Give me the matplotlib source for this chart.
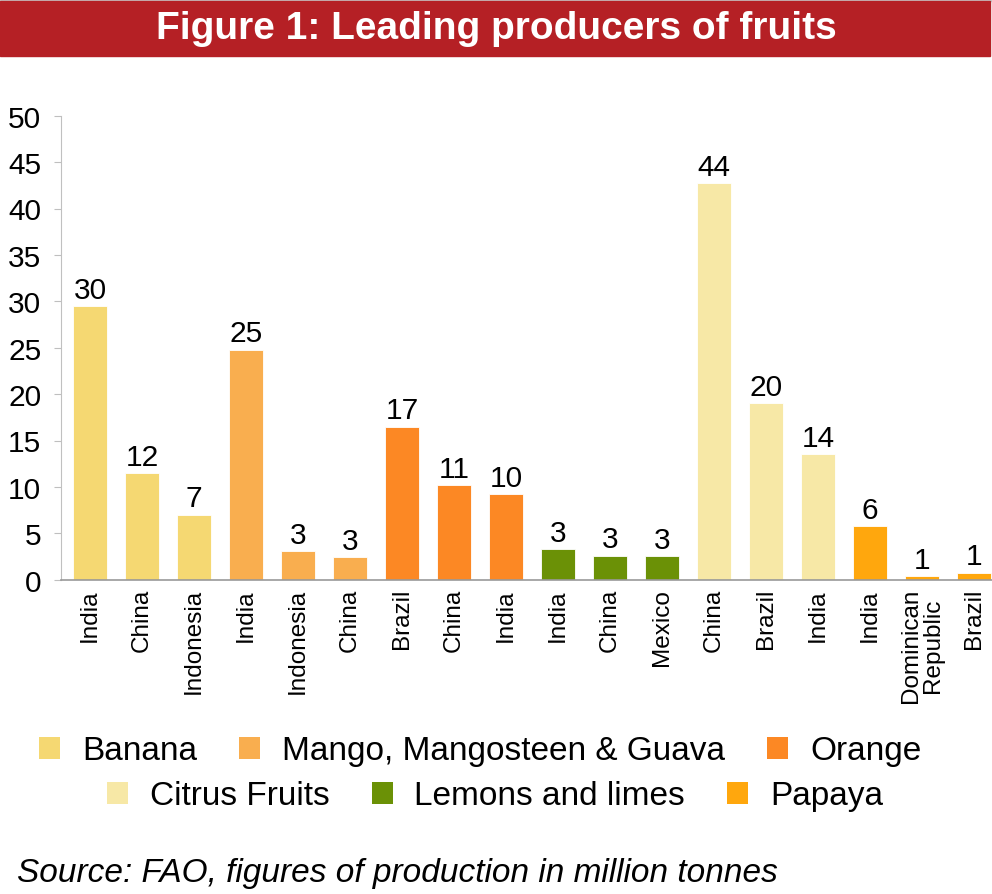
import matplotlib
matplotlib.use("Agg")
import matplotlib.pyplot as plt
from matplotlib.patches import Patch, Rectangle

plt.rcParams['font.family'] = ['Liberation Sans', 'DejaVu Sans']

countries = ['India', 'China', 'Indonesia', 'India', 'Indonesia', 'China',
             'Brazil', 'China', 'India', 'India', 'China', 'Mexico',
             'China', 'Brazil', 'India', 'India', 'Dominican\nRepublic', 'Brazil']
fruits = ['Banana', 'Banana', 'Banana',
          'Mango, Mangosteen & Guava', 'Mango, Mangosteen & Guava', 'Mango, Mangosteen & Guava',
          'Orange', 'Orange', 'Orange',
          'Lemons and limes', 'Lemons and limes', 'Lemons and limes',
          'Citrus Fruits', 'Citrus Fruits', 'Citrus Fruits',
          'Papaya', 'Papaya', 'Papaya']
values = [29.5, 11.5, 7.0, 24.8, 3.1, 2.45, 16.5, 10.2, 9.2,
          3.3, 2.6, 2.55, 42.7, 19.0, 13.5, 5.8, 0.4, 0.75]
value_labels = ['30', '12', '7', '25', '3', '3', '17', '11', '10',
                '3', '3', '3', '44', '20', '14', '6', '1', '1']

colors = {
    'Banana': '#F5D872',
    'Mango, Mangosteen & Guava': '#F9AE4F',
    'Orange': '#FC8824',
    'Citrus Fruits': '#F7E8A6',
    'Lemons and limes': '#6B9106',
    'Papaya': '#FFA70D',
}
legend_row1 = ['Banana', 'Mango, Mangosteen & Guava', 'Orange']
legend_row2 = ['Citrus Fruits', 'Lemons and limes', 'Papaya']

W, H = 992, 895
fig = plt.figure(figsize=(W / 100, H / 100), dpi=100)

# title band
fig.patches.append(Rectangle((0, 1 - 1.5 / H), 1, 1.5 / H, transform=fig.transFigure,
                             color='#c8c8c8', zorder=0))
fig.patches.append(Rectangle((0, 1 - 57 / H), 990 / W, 55.5 / H, transform=fig.transFigure,
                             color='#B52025', zorder=1))
fig.text(0.5, 1 - 29 / H, 'Figure 1: Leading producers of fruits', color='white',
         fontsize=28, fontweight='bold', ha='center', va='center')

ax = fig.add_axes([60.7 / W, 1 - 580.7 / H, 1 - 60.7 / W, (580.7 - 116.7) / H])
x = list(range(len(values)))
bars = ax.bar(x, values, width=0.64, color=[colors[f] for f in fruits],
              edgecolor='white', linewidth=0.6, zorder=2)
for b, lab in zip(bars, value_labels):
    ax.annotate(lab, (b.get_x() + b.get_width() / 2, b.get_height()),
                xytext=(0, 6), textcoords='offset points',
                ha='center', va='baseline', fontsize=21.5)

ax.set_xlim(-0.563, 17.346)
ax.set_ylim(0, 50)
ax.set_yticks(range(0, 51, 5))
ax.set_xticks(x)
ax.set_xticklabels(countries, rotation=90, fontsize=17.5, va='top', ha='center',
                   linespacing=1.05, multialignment='center')
ax.tick_params(axis='y', labelsize=21.5, length=5, color='#bfbfbf', pad=9)
ax.tick_params(axis='x', length=0, pad=6)
for s in ['top', 'right']:
    ax.spines[s].set_visible(False)
ax.spines['left'].set_color('#c0c0c0')
ax.spines['bottom'].set_color('#999999')
ax.spines['bottom'].set_linewidth(1.2)

leg_kw = dict(loc='center', frameon=False, fontsize=24, ncol=3, borderpad=0,
              handlelength=0.63, handleheight=0.63, handletextpad=0.66,
              columnspacing=1.26)
h1 = [Patch(facecolor=colors[n], edgecolor='none', label=n) for n in legend_row1]
h2 = [Patch(facecolor=colors[n], edgecolor='none', label=n) for n in legend_row2]
fig.legend(handles=h1, bbox_to_anchor=(480 / W, 1 - 752 / H), **leg_kw)
fig.legend(handles=h2, bbox_to_anchor=(495 / W, 1 - 797 / H), **leg_kw)

fig.text(17 / W, 1 - 882 / H, 'Source: FAO, figures of production in million tonnes',
         fontsize=24, style='italic', ha='left', va='baseline')

fig.savefig('out.png', dpi=100)
